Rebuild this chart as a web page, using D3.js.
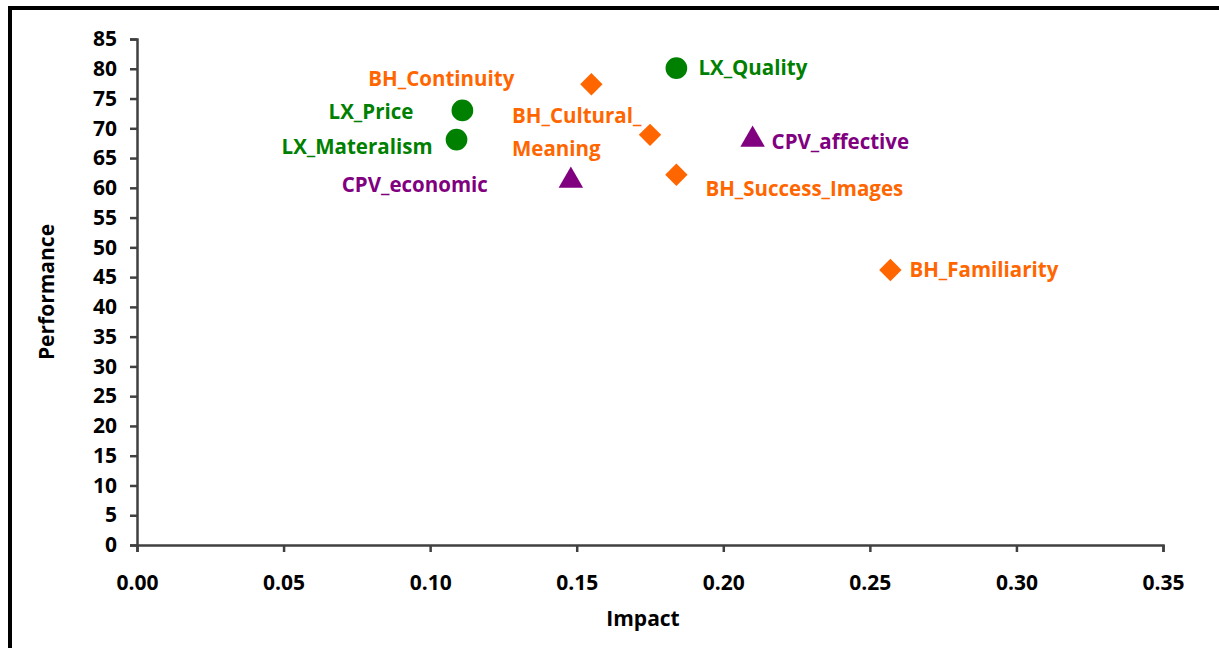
<!DOCTYPE html>
<html>

<head>
    <meta charset="utf-8">
    <style type="text/css">
        body {
            margin: 0;
            background: #fff;
        }

        text {
            font-family: "Open Sans", "Noto Sans", Arial, sans-serif;
            font-weight: bold;
        }

        .axis path,
        .axis line {
            stroke: #404040;
            stroke-width: 2.5px;
        }

        .axis text {
            font-size: 21px;
            fill: #000;
        }
    </style>
</head>

<body>
    <div id="canvas"></div>

    <script type="text/javascript" src="https://cdnjs.cloudflare.com/ajax/libs/d3/7.8.5/d3.min.js"></script>
    <script type="text/javascript">
        (function () {

            // data
            var names = ['LX_Quality', 'LX_Price', 'LX_Materalism', 'BH_Continuity', 'BH_Cultural_Meaning',
                'BH_Success_Images', 'BH_Familiarity', 'CPV_affective', 'CPV_economic'];
            var groups = ['LX', 'LX', 'LX', 'BH', 'BH', 'BH', 'BH', 'CPV', 'CPV'];
            var impact = [0.184, 0.111, 0.109, 0.155, 0.175, 0.184, 0.257, 0.210, 0.148];
            var performance = [80.1, 73.0, 68.1, 77.4, 68.9, 62.2, 46.2, 68.1, 61.2];
            var xTicks = [0, 0.05, 0.10, 0.15, 0.20, 0.25, 0.30, 0.35];
            var yTicks = d3.range(0, 90, 5);

            var colors = { LX: '#008000', BH: '#ff6600', CPV: '#800080' };
            var shapes = { LX: d3.symbolCircle, BH: d3.symbolDiamond2, CPV: d3.symbolTriangle };
            var sizes = { LX: 370, BH: 320, CPV: 260 };

            // label placement relative to each marker: [dx, dy, anchor]
            var labelPos = {
                'LX_Quality': [22, 0, 'start'],
                'LX_Price': [-49, 1, 'end'],
                'LX_Materalism': [-24, 7, 'end'],
                'BH_Continuity': [-77, -5, 'end'],
                'BH_Cultural_Meaning': [-138, -19, 'start'],
                'BH_Success_Images': [29, 14, 'start'],
                'BH_Familiarity': [19, 0, 'start'],
                'CPV_affective': [19, 2, 'start'],
                'CPV_economic': [-83, 4, 'end']
            };

            var width = 1219, height = 648;
            var left = 137, right = 1163, top = 39, bottom = 545;

            var svg = d3.select('#canvas').append('svg')
                .attr('width', width)
                .attr('height', height);

            // frame (only the left and top edges show in the picture)
            svg.append('path')
                .attr('d', 'M10,' + (height + 10) + 'V8H' + (width + 10))
                .attr('fill', 'none')
                .attr('stroke', '#000')
                .attr('stroke-width', 4);

            var x = d3.scaleLinear().domain([0, 0.35]).range([left, right]);
            var y = d3.scaleLinear().domain([0, 85]).range([bottom, top]);

            svg.append('g')
                .attr('class', 'axis')
                .attr('transform', 'translate(0,' + bottom + ')')
                .call(d3.axisBottom(x).tickValues(xTicks).tickFormat(d3.format('.2f'))
                    .tickSizeInner(7).tickSizeOuter(7).tickPadding(23));

            svg.append('g')
                .attr('class', 'axis')
                .attr('transform', 'translate(' + left + ',0)')
                .call(d3.axisLeft(y).tickValues(yTicks).tickFormat(d3.format('d'))
                    .tickSizeInner(7).tickSizeOuter(7).tickPadding(13));

            svg.append('text')
                .attr('x', 643)
                .attr('y', 626)
                .attr('text-anchor', 'middle')
                .style('font-size', '21px')
                .text('Impact');

            svg.append('text')
                .attr('transform', 'translate(54,' + ((top + bottom) / 2) + ') rotate(-90)')
                .attr('text-anchor', 'middle')
                .style('font-size', '21px')
                .text('Performance');

            var pts = names.map(function (n, i) {
                return { name: n, group: groups[i], x: impact[i], y: performance[i] };
            });

            svg.selectAll('path.mark')
                .data(pts)
                .enter().append('path')
                .attr('class', 'mark')
                .attr('transform', function (d) {
                    return 'translate(' + x(d.x) + ',' + y(d.y) + ')';
                })
                .attr('d', function (d) {
                    return d3.symbol().type(shapes[d.group]).size(sizes[d.group])();
                })
                .attr('fill', function (d) { return colors[d.group]; });

            var labels = svg.selectAll('text.label')
                .data(pts)
                .enter().append('text')
                .attr('class', 'label')
                .attr('x', function (d) { return x(d.x) + labelPos[d.name][0]; })
                .attr('y', function (d) { return y(d.y) + labelPos[d.name][1]; })
                .attr('dy', '0.35em')
                .attr('text-anchor', function (d) { return labelPos[d.name][2]; })
                .attr('fill', function (d) { return colors[d.group]; })
                .style('font-size', '20.5px');

            labels.each(function (d) {
                var t = d3.select(this);
                if (d.name === 'BH_Cultural_Meaning') {
                    t.append('tspan').text('BH_Cultural_');
                    t.append('tspan')
                        .attr('x', x(d.x) + labelPos[d.name][0])
                        .attr('dy', 33)
                        .text('Meaning');
                } else {
                    t.text(d.name);
                }
            });

        })();
    </script>
</body>

</html>
